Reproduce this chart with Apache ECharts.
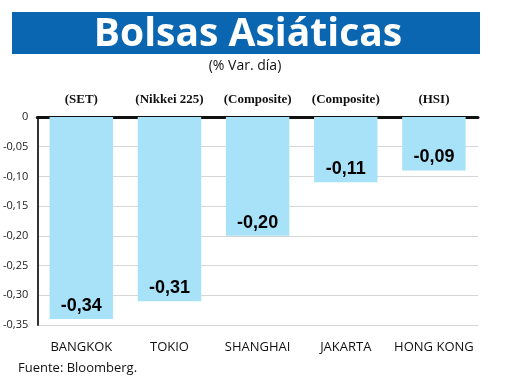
<!DOCTYPE html>
<html><head><meta charset="utf-8">
<script src="https://cdn.jsdelivr.net/npm/echarts@6/dist/echarts.min.js"></script>
<style>html,body{margin:0;padding:0;background:#fff}#c{width:520px;height:390px}</style>
</head><body><div id="c"></div>
<script>
const cities = ['BANGKOK','TOKIO','SHANGHAI','JAKARTA','HONG KONG'];
const indices = ['(SET)','(Nikkei 225)','(Composite)','(Composite)','(HSI)'];
const values = [-0.34, -0.31, -0.20, -0.11, -0.09];
const yTicks = {min: -0.35, max: 0, interval: 0.05};

const chart = echarts.init(document.getElementById('c'));
const fmt = v => v === 0 ? '0' : v.toFixed(2).replace('.', ',');
chart.setOption({
  animation: false,
  graphic: [
    {type: 'rect', shape: {x: 12, y: 12, width: 468, height: 42}, style: {fill: '#0a66b1'}},
    {type: 'text', x: 248, y: 35, style: {text: 'Bolsas Asiáticas', fill: '#fff', font: 'bold 39px "Open Sans", sans-serif', align: 'center', verticalAlign: 'middle'}},
    {type: 'text', x: 245, y: 59, style: {text: '(% Var. día)', fill: '#111', font: '14px "Open Sans", sans-serif', align: 'center'}},
    {type: 'text', x: 18, y: 362, style: {text: 'Fuente: Bloomberg.', fill: '#111', font: '13px "Open Sans", sans-serif'}}
  ],
  grid: {left: 35, right: 42, top: 117, bottom: 65},
  xAxis: [
    {type: 'category', data: cities, position: 'bottom',
     axisLine: {onZero: true, lineStyle: {color: '#111', width: 3}},
     axisTick: {show: false},
     axisLabel: {show: false}},
    {type: 'category', data: cities, position: 'bottom', offset: 0,
     axisLine: {show: false}, axisTick: {show: false},
     axisLabel: {interval: 0, color: '#111', fontSize: 13, margin: 16, fontFamily: '"Open Sans", sans-serif'}},
    {type: 'category', data: indices, position: 'top',
     axisLine: {show: false}, axisTick: {show: false},
     axisLabel: {interval: 0, color: '#111', fontSize: 13, margin: 11, fontFamily: '"Liberation Serif", serif', fontWeight: 'bold'}}
  ],
  yAxis: {type: 'value', min: yTicks.min, max: yTicks.max, interval: yTicks.interval,
    axisLine: {show: true, lineStyle: {color: '#333', width: 2}},
    axisTick: {show: false},
    axisLabel: {formatter: fmt, color: '#222', fontSize: 11, margin: 9, fontFamily: '"Open Sans", sans-serif'},
    splitLine: {lineStyle: {color: '#d6d6d6', width: 1}}},
  series: [{
    type: 'bar', data: values, xAxisIndex: 0, barWidth: '72%',
    itemStyle: {color: '#a8e2f8'},
    label: {show: true, position: 'insideBottom', distance: 4, formatter: p => fmt(p.value),
      color: '#000', fontSize: 18, fontWeight: 'bold', fontFamily: '"Liberation Sans", sans-serif'}
  }]
});
</script></body></html>
